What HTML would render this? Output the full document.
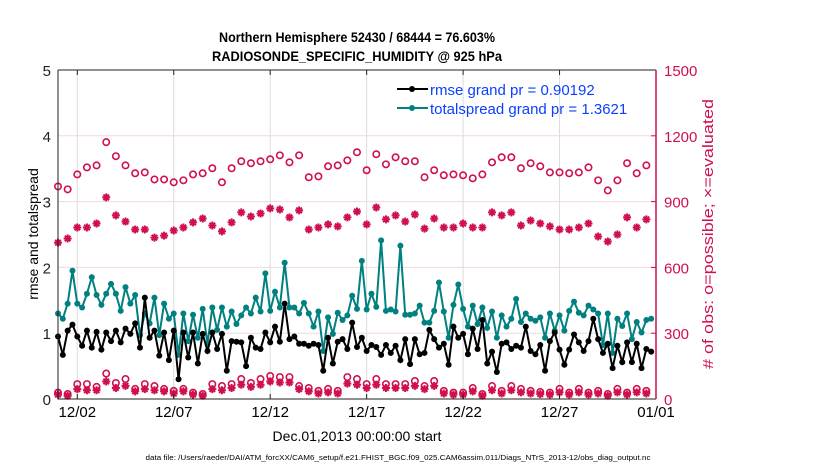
<!DOCTYPE html>
<html><head><meta charset="utf-8"><style>
body{margin:0;background:#fff;}
svg{display:block;font-family:"Liberation Sans",Arial,sans-serif;}
</style></head><body>
<svg id="chart" width="830" height="470" viewBox="0 0 830 470" xmlns="http://www.w3.org/2000/svg">
<g id="grid"></g>
<g id="series"></g>
<g id="axes"></g>
<text x="357" y="42" text-anchor="middle" font-size="14" font-weight="bold" textLength="276" lengthAdjust="spacingAndGlyphs">Northern Hemisphere 52430 / 68444 = 76.603%</text>
<text x="357" y="61" text-anchor="middle" font-size="14" font-weight="bold" textLength="290" lengthAdjust="spacingAndGlyphs">RADIOSONDE_SPECIFIC_HUMIDITY @ 925 hPa</text>
<text transform="translate(38,234) rotate(-90)" text-anchor="middle" font-size="14">rmse and totalspread</text>
<text transform="translate(713,234) rotate(-90)" text-anchor="middle" font-size="15" fill="#d0104c" textLength="270" lengthAdjust="spacingAndGlyphs"># of obs: o=possible; ×=evaluated</text>
<text x="357" y="441" text-anchor="middle" font-size="14">Dec.01,2013 00:00:00 start</text>
<text x="398" y="460" text-anchor="middle" font-size="7.5" textLength="505" lengthAdjust="spacingAndGlyphs">data file: /Users/raeder/DAI/ATM_forcXX/CAM6_setup/f.e21.FHIST_BGC.f09_025.CAM6assim.011/Diags_NTrS_2013-12/obs_diag_output.nc</text>
<g>
<line x1="397" y1="89" x2="428" y2="89" stroke="#000" stroke-width="2"/>
<circle cx="412" cy="89" r="3" fill="#000"/>
<text x="430" y="95" font-size="15" fill="#0b3fff">rmse grand pr = 0.90192</text>
<line x1="397" y1="108" x2="428" y2="108" stroke="#008080" stroke-width="2"/>
<circle cx="412" cy="108" r="3" fill="#008080"/>
<text x="430" y="114" font-size="15" fill="#0b3fff">totalspread grand pr = 1.3621</text>
</g>
</svg>
<script>
const rmse=[0.95,0.67,1.04,1.13,0.95,0.81,1.04,0.78,1.02,0.75,1.01,0.88,1.04,0.86,1.07,0.99,1.15,0.78,1.54,0.93,1.04,0.66,1.01,0.59,1.04,0.30,1.01,0.63,1.01,0.54,0.99,
0.73,1.01,0.76,0.99,0.43,0.88,0.87,0.86,0.50,0.93,0.78,0.76,1.01,0.86,1.10,0.87,1.45,0.91,0.95,0.84,0.84,0.81,0.84,0.82,0.43,0.93,0.54,0.87,0.91,0.76,1.16,
0.79,0.93,0.73,0.82,0.79,0.67,0.82,0.70,0.81,0.59,0.91,0.53,0.91,0.68,0.70,1.05,0.91,0.78,0.84,0.52,1.10,0.93,0.99,0.68,1.07,0.76,1.20,0.54,0.72,0.41,0.84,
0.86,0.76,0.81,0.78,1.10,0.73,0.68,0.82,0.43,0.88,1.01,0.75,0.52,0.75,0.98,0.86,0.73,0.88,1.22,0.91,0.70,0.84,0.47,0.81,0.56,0.86,0.56,0.84,0.47,0.76,0.72];
const spread=[1.30,1.22,1.45,1.95,1.45,1.39,1.60,1.85,1.58,1.43,1.60,1.75,1.60,1.34,1.70,1.45,1.58,0.97,1.30,1.15,1.54,0.97,1.45,1.22,1.30,0.67,1.30,0.88,1.28,0.93,1.37,
0.84,1.39,1.05,1.39,1.10,1.33,1.14,1.27,1.39,1.30,1.54,1.33,1.91,1.34,1.63,1.39,2.07,1.39,1.39,1.30,1.46,1.30,1.10,1.33,0.73,1.24,0.99,1.31,1.20,1.27,1.57,
1.37,2.10,1.36,1.60,1.40,2.41,1.34,1.36,1.33,2.33,1.28,1.28,1.30,1.42,1.16,1.16,1.34,1.77,1.33,0.93,1.43,1.74,1.37,1.10,1.42,1.14,1.39,1.08,1.33,0.93,1.27,
1.10,1.22,1.52,1.17,1.30,1.22,1.19,1.24,0.93,1.30,1.04,1.27,1.04,1.34,1.48,1.31,1.27,1.42,1.36,1.30,0.82,1.30,0.70,1.22,1.11,1.30,0.91,1.17,1.01,1.20,1.22];
const possibleAll=[969,956,1024,1056,1065,1171,1107,1065,1029,1033,1001,1001,988,997,1024,1029,1052,988,1052,1084,1075,1084,
1093,1111,1079,1111,1011,1015,1061,1065,1088,1125,1043,1116,1070,1102,1084,1084,1011,1043,1020,1024,
1020,1006,1024,1079,1102,1102,1052,1075,1061,1033,1033,1029,1033,1056,997,951,997,1075,1029,1065];
const evaluatedAll=[713,732,782,782,800,919,837,809,773,773,736,745,768,782,805,823,791,764,805,851,832,846,
869,864,828,860,773,782,796,787,828,855,796,873,819,837,809,841,777,823,782,782,
800,782,782,851,837,851,791,814,800,787,773,773,782,800,741,718,750,828,782,819];
const possibleSub=[29,23,68,68,55,116,73,91,46,68,59,46,37,46,29,23,68,59,68,91,73,91,
105,100,100,59,50,37,46,37,100,91,68,91,68,68,68,82,59,82,37,29,
29,50,23,59,37,59,46,37,32,29,46,29,46,29,37,23,46,29,46,37];
const evaluatedSub=[20,15,45,40,40,80,50,60,35,45,40,35,25,35,20,15,45,40,50,65,55,65,
80,75,75,45,35,25,30,25,70,65,50,65,50,50,50,60,45,60,25,20,
20,35,15,40,25,40,30,25,22,20,30,20,30,20,25,15,30,20,30,25];
const xTickLabels=['12/02','12/07','12/12','12/17','12/22','12/27','01/01'];
const xTickDays=[1,6,11,16,21,26,31];
const leftTicks=[0,1,2,3,4,5];
const rightTicks=[0,300,600,900,1200,1500];

const X0=58,X1=656,Y0=399,Y1=70,NDAYS=31,RED='#d0104c',TEAL='#008080';
const xs=d=>X0+(X1-X0)*d/NDAYS;
const yl=v=>Y0-(Y0-Y1)*v/5;
const yr=v=>Y0-(Y0-Y1)*v/1500;
const NS='http://www.w3.org/2000/svg';
function mk(tag,attrs,parent){const e=document.createElementNS(NS,tag);for(const k in attrs)e.setAttribute(k,attrs[k]);parent.appendChild(e);return e;}
const grid=document.getElementById('grid'),ser=document.getElementById('series'),axes=document.getElementById('axes');

xTickDays.forEach((d,i)=>{
  const g=mk('line',{x1:xs(d),x2:xs(d),y1:Y1,y2:Y0,stroke:'#dcdcdc','stroke-width':1},grid);
  
  
  const t=mk('text',{x:xs(d),y:417,'text-anchor':'middle','font-size':15},axes);
  t.textContent=xTickLabels[i];
  
  
  mk('line',{x1:xs(d),x2:xs(d),y1:Y0,y2:Y0-5,stroke:'#222'},axes);
  mk('line',{x1:xs(d),x2:xs(d),y1:Y1,y2:Y1+5,stroke:'#222'},axes);
});
leftTicks.forEach(v=>{
  if(v>0&&v<5){const g=mk('line',{x1:X0,x2:X1,y1:yl(v),y2:yl(v),stroke:'#f0d8e2','stroke-width':1},grid);
  
  }
  const t=mk('text',{x:51,y:yl(v)+6,'text-anchor':'end','font-size':15,fill:'#222'},axes);
  t.textContent=v;
  
  
});
rightTicks.forEach(v=>{
  const t=mk('text',{x:664,y:yr(v)+6,'font-size':15,fill:RED},axes);
  t.textContent=v;
  
  
  mk('line',{x1:X1,x2:X1-5,y1:yr(v),y2:yr(v),stroke:RED},axes);
});
mk('path',{d:`M${X0} ${Y1}V${Y0}H${X1}M${X0} ${Y1}H${X1}`,stroke:'#222',fill:'none','stroke-width':1},axes);
mk('line',{x1:X1,x2:X1,y1:Y1,y2:Y0,stroke:RED,'stroke-width':1.5},axes);

function star(x,y,parent){
  const r=4;
  const p=mk('path',{d:`M${x-r} ${y}H${x+r}M${x} ${y-r}V${y+r}M${x-2.8} ${y-2.8}L${x+2.8} ${y+2.8}M${x-2.8} ${y+2.8}L${x+2.8} ${y-2.8}`,stroke:RED,'stroke-width':2},parent);
  
  
}
function openCircles(arr,name){
  arr.forEach((v,i)=>{const c=mk('circle',{cx:xs(i*0.5),cy:yr(v),r:3.2,fill:'none',stroke:RED,'stroke-width':1.6},ser);
  
  });
}
evaluatedAll.forEach((v,i)=>star(xs(i*0.5),yr(v),ser));
evaluatedSub.forEach((v,i)=>star(xs(i*0.5),yr(v),ser));
openCircles(possibleAll,'possible-marker');
openCircles(possibleSub,'possible-sub-marker');

function lineSeries(arr,color,name){
  const pts=arr.map((v,i)=>[xs(i*0.25),yl(v)]);
  const pl=mk('polyline',{points:pts.map(p=>p.join(',')).join(' '),fill:'none',stroke:color,'stroke-width':2},ser);
  
  
  pts.forEach(p=>{const c=mk('circle',{cx:p[0],cy:p[1],r:3,fill:color},ser);
  
  });
}
lineSeries(spread,TEAL,'totalspread');
lineSeries(rmse,'#000','rmse');
</script>
</body></html>
